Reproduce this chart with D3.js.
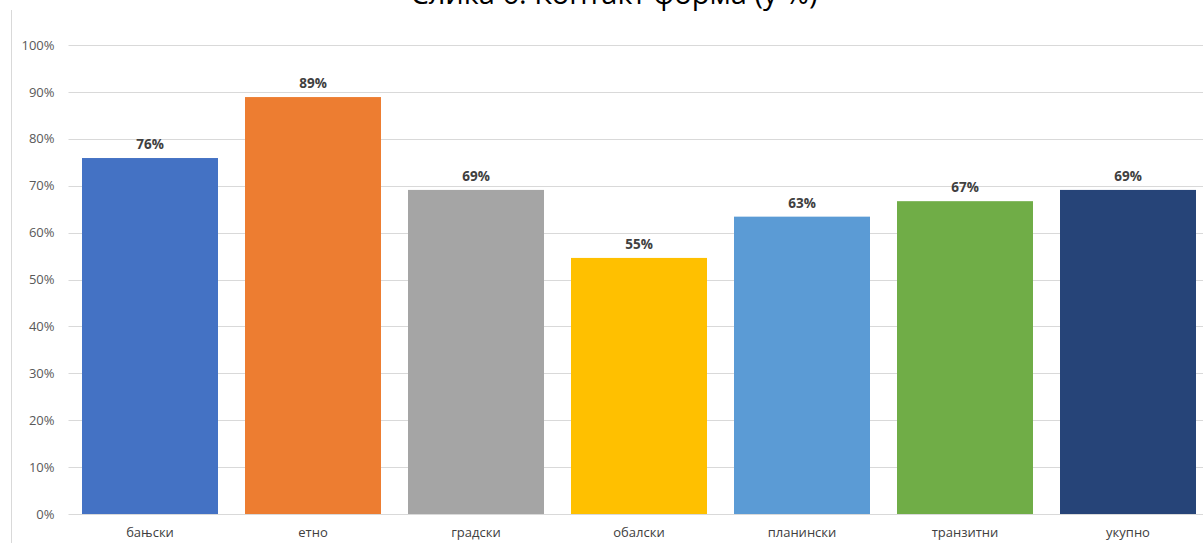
<!DOCTYPE html>
<html>
<head>
<meta charset="utf-8">
<script src="https://cdn.jsdelivr.net/npm/d3@7"></script>
<style>
  html, body { margin: 0; padding: 0; background: #fff; }
  svg { display: block; font-family: "Open Sans", "Noto Sans", sans-serif; }
</style>
</head>
<body>
<svg id="chart" width="1203" height="543"></svg>
<script>
// Share of contact forms by tourism type (%)
const categories = ["бањски", "етно", "градски", "обалски", "планински", "транзитни", "укупно"];
const values = [75.9, 88.9, 69.1, 54.6, 63.4, 66.7, 69.1];
const colors = ["#4472C4", "#ED7D31", "#A5A5A5", "#FFC000", "#5B9BD5", "#70AD47", "#264478"];
const yTicks = [0, 10, 20, 30, 40, 50, 60, 70, 80, 90, 100];
const title = "Слика 6. Контакт форма (у %)";

const svg = d3.select("#chart");
const W = 1203, H = 543;
const margin = { left: 68.5, top: 45, bottom: 29 };

const x = d3.scaleBand()
  .domain(categories)
  .range([margin.left, margin.left + 163 * categories.length])
  .paddingInner(27 / 163)
  .paddingOuter(13.5 / 163);

const y = d3.scaleLinear()
  .domain([0, 100])
  .range([H - margin.bottom, margin.top]);

// outer chart frame (left edge visible)
svg.append("line")
  .attr("x1", 11.5).attr("x2", 11.5)
  .attr("y1", 10).attr("y2", H)
  .attr("stroke", "#d9d9d9").attr("stroke-width", 1);

// title, running off the top of the frame
svg.append("text")
  .attr("x", 614).attr("y", 4)
  .attr("text-anchor", "middle")
  .attr("font-size", 29)
  .attr("fill", "#000")
  .text(title);

// gridlines
svg.append("g")
  .selectAll("line")
  .data(yTicks)
  .join("line")
  .attr("x1", margin.left).attr("x2", W)
  .attr("y1", d => Math.round(y(d)) + 0.5)
  .attr("y2", d => Math.round(y(d)) + 0.5)
  .attr("stroke", "#d9d9d9").attr("stroke-width", 1);

// y axis labels
const yAxis = d3.axisLeft(y)
  .tickValues(yTicks)
  .tickFormat(d => d + "%")
  .tickSize(0)
  .tickPadding(0);
const gy = svg.append("g")
  .attr("transform", `translate(${margin.left - 14},0)`)
  .call(yAxis);
gy.select(".domain").remove();
gy.selectAll("text")
  .attr("font-size", 13)
  .attr("font-family", "Open Sans, sans-serif")
  .attr("fill", "#595959");

// bars
svg.append("g")
  .selectAll("rect")
  .data(categories)
  .join("rect")
  .attr("x", d => x(d))
  .attr("width", x.bandwidth())
  .attr("y", (d, i) => y(values[i]))
  .attr("height", (d, i) => y(0) - y(values[i]))
  .attr("fill", (d, i) => colors[i]);

// value labels
const fmt = d3.format(".0f");
svg.append("g")
  .selectAll("text")
  .data(categories)
  .join("text")
  .attr("x", d => x(d) + x.bandwidth() / 2)
  .attr("y", (d, i) => y(values[i]) - 9)
  .attr("text-anchor", "middle")
  .attr("font-size", 13.5)
  .attr("font-weight", "bold")
  .attr("fill", "#404040")
  .text((d, i) => fmt(values[i]) + "%");

// x axis labels
const xAxis = d3.axisBottom(x).tickSize(0).tickPadding(0);
const gx = svg.append("g")
  .attr("transform", `translate(0,${y(0)})`)
  .call(xAxis);
gx.select(".domain").remove();
gx.selectAll("text")
  .attr("y", 14)
  .attr("font-size", 13)
  .attr("font-family", "Open Sans, sans-serif")
  .attr("fill", "#404040");
</script>
</body>
</html>
